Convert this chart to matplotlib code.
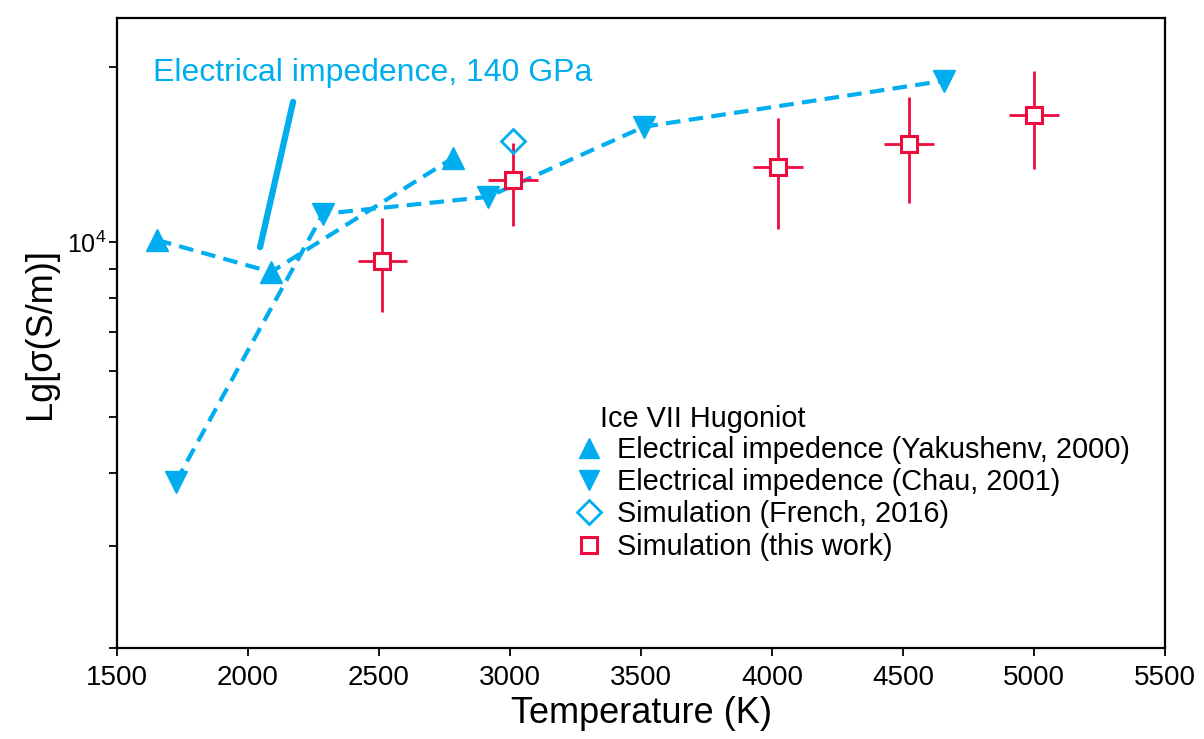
import numpy as np
import matplotlib
matplotlib.use("Agg")
import matplotlib.pyplot as plt
from matplotlib.lines import Line2D
from matplotlib.ticker import LogLocator, NullFormatter

plt.rcParams['font.family'] = ['Liberation Sans', 'DejaVu Sans']

BLUE = '#00AEEF'
RED = '#EE0C3F'

# Yakushenv 2000 (up triangles)
yak_T = [1653, 2088, 2782]
yak_s = [10080, 8880, 13950]

# Chau 2001 (down triangles)
chau_T = [1725, 2286, 2916, 3511, 4656]
chau_s = [3870, 11180, 11960, 15790, 18950]

# French 2016
fr_T = [3011]
fr_s = [14930]

# this work
sim_T = [2513, 3011, 4023, 4523, 5000]
sim_s = [9270, 12790, 13470, 14760, 16560]
sim_lo = [7570, 10660, 10530, 11680, 13360]
sim_hi = [11000, 14820, 16360, 17790, 19710]
sim_terr = 95

# 140 GPa line
gpa_T = [2046, 2172]
gpa_s = [9800, 17430]

fig = plt.figure(figsize=(12.04, 7.39), dpi=100)
ax = fig.add_axes([0.0972, 0.1231, 0.8704, 0.8525])

dash = (3.5, 2.0)
ax.plot(yak_T, yak_s, color=BLUE, lw=3, ls=(0, dash), marker='^', ms=16,
        mfc=BLUE, mec=BLUE)
ax.plot(chau_T, chau_s, color=BLUE, lw=3, ls=(0, dash), marker='v', ms=16,
        mfc=BLUE, mec=BLUE)
ax.plot(gpa_T, gpa_s, color=BLUE, lw=4.5, solid_capstyle='round')

sim_s = np.array(sim_s)
yerr = [sim_s - np.array(sim_lo), np.array(sim_hi) - sim_s]
ax.errorbar(sim_T, sim_s, yerr=yerr, xerr=sim_terr, fmt='none',
            ecolor=RED, elinewidth=2, capsize=0, zorder=3)
ax.plot(sim_T, sim_s, ls='none', marker='s', ms=11, mfc='white',
        mec=RED, mew=2.2, zorder=4)
ax.plot(fr_T, fr_s, ls='none', marker='D', ms=12, mfc='none',
        mec=BLUE, mew=2, zorder=4)

ax.text(1637, 19560, 'Electrical impedence, 140 GPa', color=BLUE,
        fontsize=23, va='center', ha='left')

ax.set_yscale('log')
ax.set_xlim(1500, 5500)
ax.set_ylim(2000, 24300)
ax.set_xticks(np.arange(1500, 5501, 500))
ax.yaxis.set_major_locator(LogLocator(base=10))
ax.yaxis.set_minor_locator(LogLocator(base=10, subs=np.arange(2, 10)))
ax.yaxis.set_minor_formatter(NullFormatter())

ax.tick_params(axis='both', which='both', direction='out', width=1.3,
               top=False, right=False)
ax.tick_params(axis='both', which='major', length=6)
ax.tick_params(axis='x', which='major', pad=6, labelsize=20)
ax.tick_params(axis='y', which='major', pad=2, labelsize=18)
ax.tick_params(axis='y', which='minor', length=6)
for sp in ax.spines.values():
    sp.set_linewidth(1.6)

ax.set_xlabel('Temperature (K)', fontsize=26, labelpad=4)
ax.set_ylabel('Lg[σ(S/m)]', fontsize=26, labelpad=6)

ax.text(0.4609, 0.3508, 'Ice VII Hugoniot', transform=ax.transAxes,
        fontsize=20.8, ha='left', va='baseline')

handles = [
    Line2D([], [], ls='none', marker='^', ms=15, color=BLUE),
    Line2D([], [], ls='none', marker='v', ms=15, color=BLUE),
    Line2D([], [], ls='none', marker='D', ms=12, mfc='none', mec=BLUE, mew=2),
    Line2D([], [], ls='none', marker='s', ms=11, mfc='white', mec=RED, mew=2.2),
]
labels = ['Electrical impedence (Yakushenv, 2000)',
          'Electrical impedence (Chau, 2001)',
          'Simulation (French, 2016)',
          'Simulation (this work)']
leg = ax.legend(handles, labels, loc='upper left',
                bbox_to_anchor=(0.4375, 0.337), frameon=False, fontsize=20.8,
                handlelength=0.95, handletextpad=0.5,
                labelspacing=0.15, borderpad=0, borderaxespad=0)

fig.savefig('out.png', dpi=100)
